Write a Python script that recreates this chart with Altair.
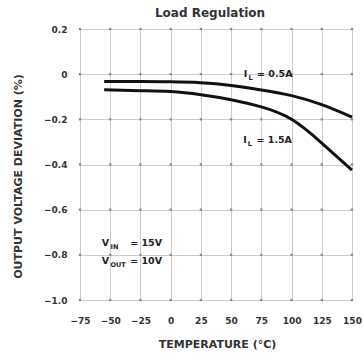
import altair as alt
import pandas as pd

temps = [-55, -25, 0, 25, 50, 75, 100, 125, 150]
dev_05 = [-0.032, -0.033, -0.034, -0.038, -0.05, -0.07, -0.095, -0.135, -0.19]
dev_15 = [-0.069, -0.073, -0.077, -0.091, -0.113, -0.145, -0.2, -0.305, -0.425]

x_ticks = [-75, -50, -25, 0, 25, 50, 75, 100, 125, 150]
y_ticks = [0.2, 0, -0.2, -0.4, -0.6, -0.8, -1.0]

# annotations
ann_t = [60.5, 71.5, 60.0, 71.0, -57.0, -33.5, -57.0, -33.5]
ann_v = [0.0, 0.0, -0.29, -0.29, -0.746, -0.746, -0.826, -0.826]
ann_txt = ["I", "= 0.5A", "I", "= 1.5A", "V", "= 15V", "V", "= 10V"]
sub_t = [64.3, 63.8, -49.8, -49.8]
sub_v = [-0.018, -0.308, -0.764, -0.843]
sub_txt = ["L", "L", "IN", "OUT"]

curves = pd.DataFrame({
    "t": temps * 2,
    "v": dev_05 + dev_15,
    "s": ["0.5A"] * len(temps) + ["1.5A"] * len(temps),
})
grid_pts = pd.DataFrame([(a, b) for a in x_ticks for b in y_ticks], columns=["t", "v"])
ann = pd.DataFrame({"t": ann_t, "v": ann_v, "txt": ann_txt})
sub = pd.DataFrame({"t": sub_t, "v": sub_v, "txt": sub_txt})

FONT = "DejaVu Sans"

xs = alt.Scale(domain=[-75, 150], nice=False)
ys = alt.Scale(domain=[-1.0, 0.2], nice=False)

xenc = alt.X("t:Q", scale=xs, axis=alt.Axis(
    values=x_ticks, title="TEMPERATURE (°C)", ticks=False, domain=False,
    labelOverlap=False, labelFlush=False,
    labelPadding=16, labelFontSize=9, labelFont=FONT, labelFontWeight="bold",
    labelColor="#333", gridColor="#cccccc", gridWidth=1,
    titleFont=FONT, titleFontSize=11, titleFontWeight="bold", titleColor="#333",
    titleX=137, titleY=44, titleBaseline="middle"))
yenc = alt.Y("v:Q", scale=ys, axis=alt.Axis(
    values=y_ticks, title="OUTPUT VOLTAGE DEVIATION (%)", ticks=False, domain=False,
    labelOverlap=False, labelFlush=False,
    labelPadding=13, labelFontSize=9, labelFont=FONT, labelFontWeight="bold",
    labelColor="#333", gridColor="#cccccc", gridWidth=1,
    labelExpr="datum.value == 0 ? '0' : format(datum.value, '.1f')",
    titleFont=FONT, titleFontSize=11, titleFontWeight="bold", titleColor="#333",
    titleX=-62, titleY=147, titleBaseline="middle", titleAlign="center"))

dots = alt.Chart(grid_pts).mark_square(size=5, color="#888", opacity=1).encode(x=xenc, y=yenc)

lines = alt.Chart(curves).mark_line(color="#111", strokeWidth=3, interpolate="natural").encode(
    x=xenc, y=yenc, detail="s:N")

ann_l = alt.Chart(ann).mark_text(align="left", baseline="middle", font=FONT, fontSize=9.5,
                                 fontWeight="bold", color="#222").encode(x=xenc, y=yenc, text="txt:N")
sub_l = alt.Chart(sub).mark_text(align="left", baseline="middle", font=FONT, fontSize=6.5,
                                 fontWeight="bold", color="#222").encode(x=xenc, y=yenc, text="txt:N")

chart = alt.layer(dots, lines, ann_l, sub_l).properties(
    width=272, height=271,
    title=alt.TitleParams("Load Regulation", font=FONT, fontSize=12, fontWeight="bold",
                          color="#333", anchor="middle", offset=5, dx=-6),
    padding={"left": 80, "top": 29, "right": 12, "bottom": 61},
    autosize="none",
).configure_view(stroke="#333", strokeWidth=2).configure_axis(
    labelOverlap=False, labelFlush=False
).configure(background="white")

chart.save("out.html", embed_options={"renderer": "svg", "actions": False})
